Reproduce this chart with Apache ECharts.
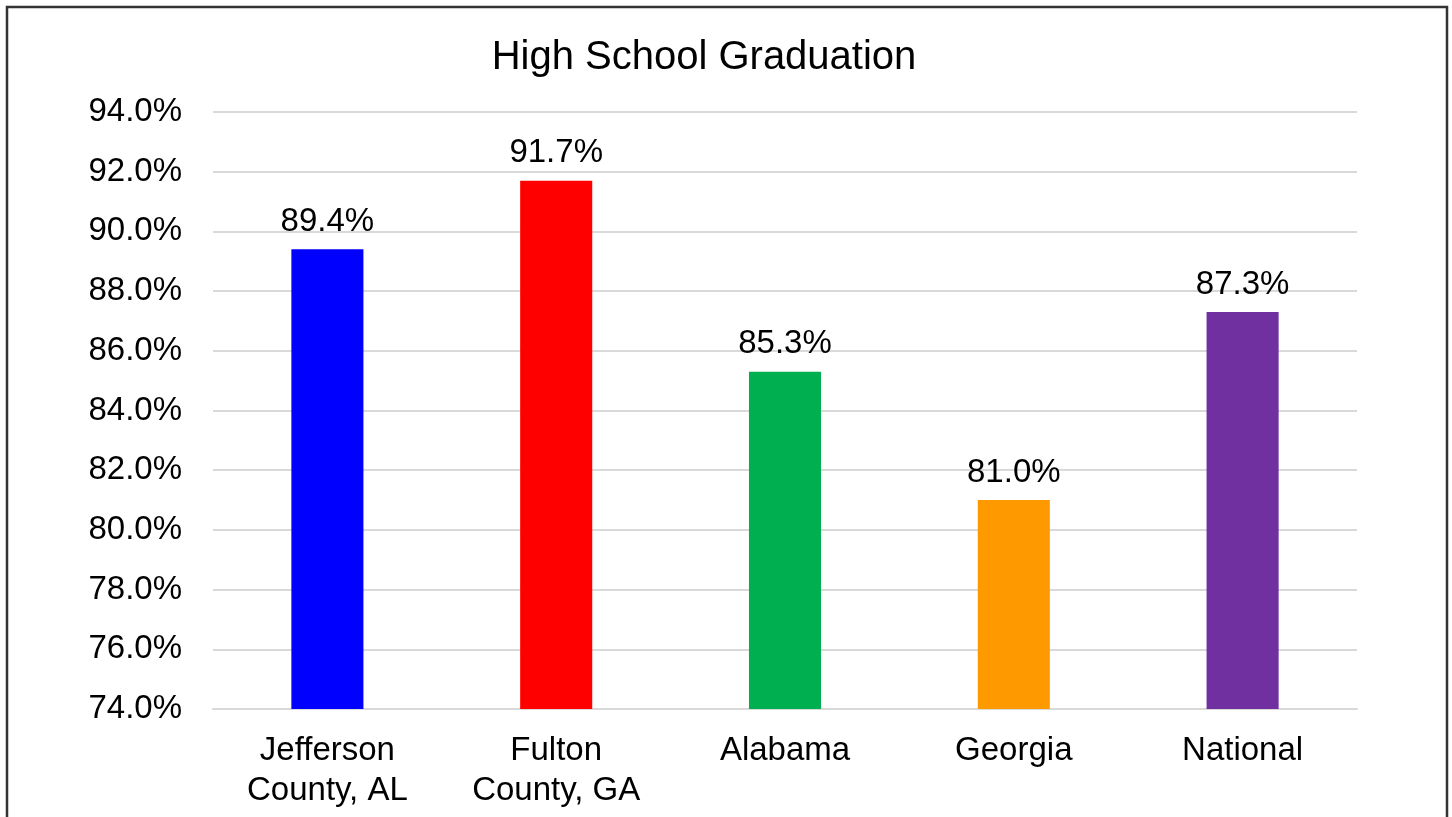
<!DOCTYPE html>
<html>
<head>
<meta charset="utf-8">
<script src="https://cdn.jsdelivr.net/npm/echarts@6/dist/echarts.min.js"></script>
<style>
html,body{margin:0;padding:0;background:#fff;}
#chart{width:1452px;height:817px;}
</style>
</head>
<body>
<div id="chart"></div>
<script>
const categories = ["Jefferson\nCounty, AL", "Fulton\nCounty, GA", "Alabama", "Georgia", "National"];
const values = [89.4, 91.7, 85.3, 81.0, 87.3];
const barColors = ["#0000FF", "#FF0000", "#00B050", "#FF9900", "#7030A0"];
const yTicks = {min: 74, max: 94, step: 2};

const chart = echarts.init(document.getElementById('chart'));
const font = "'Liberation Sans', Arial, sans-serif";
chart.setOption({
  animation: false,
  backgroundColor: '#fff',
  title: {
    text: 'High School Graduation',
    left: 699, top: 33, textAlign: 'center',
    textStyle: {fontFamily: font, fontSize: 40, fontWeight: 'normal', color: '#000'}
  },
  graphic: [{
    type: 'rect', shape: {x: 7, y: 7, width: 1440, height: 900},
    style: {fill: 'none', stroke: '#333', lineWidth: 2.5}, silent: true
  }],
  grid: {left: 213, right: 95, top: 112, bottom: 108, containLabel: false},
  xAxis: {
    type: 'category', data: categories,
    axisLine: {show: true, lineStyle: {color: '#d9d9d9', width: 2}},
    axisTick: {show: false},
    axisLabel: {fontFamily: font, fontSize: 33, color: '#000', lineHeight: 40, margin: 22, interval: 0}
  },
  yAxis: {
    type: 'value', min: yTicks.min, max: yTicks.max, interval: yTicks.step,
    axisLine: {show: false}, axisTick: {show: false},
    splitLine: {lineStyle: {color: '#d9d9d9', width: 2}},
    axisLabel: {fontFamily: font, fontSize: 33, color: '#000', margin: 31,
      formatter: v => v.toFixed(1) + '%'}
  },
  series: [{
    type: 'bar',
    data: values.map((v, i) => ({value: v, itemStyle: {color: barColors[i]}})),
    barWidth: '31.5%',
    label: {show: true, position: 'top', distance: 11, fontFamily: font, fontSize: 33, color: '#000',
      formatter: p => p.value.toFixed(1) + '%'}
  }]
});
</script>
</body>
</html>
